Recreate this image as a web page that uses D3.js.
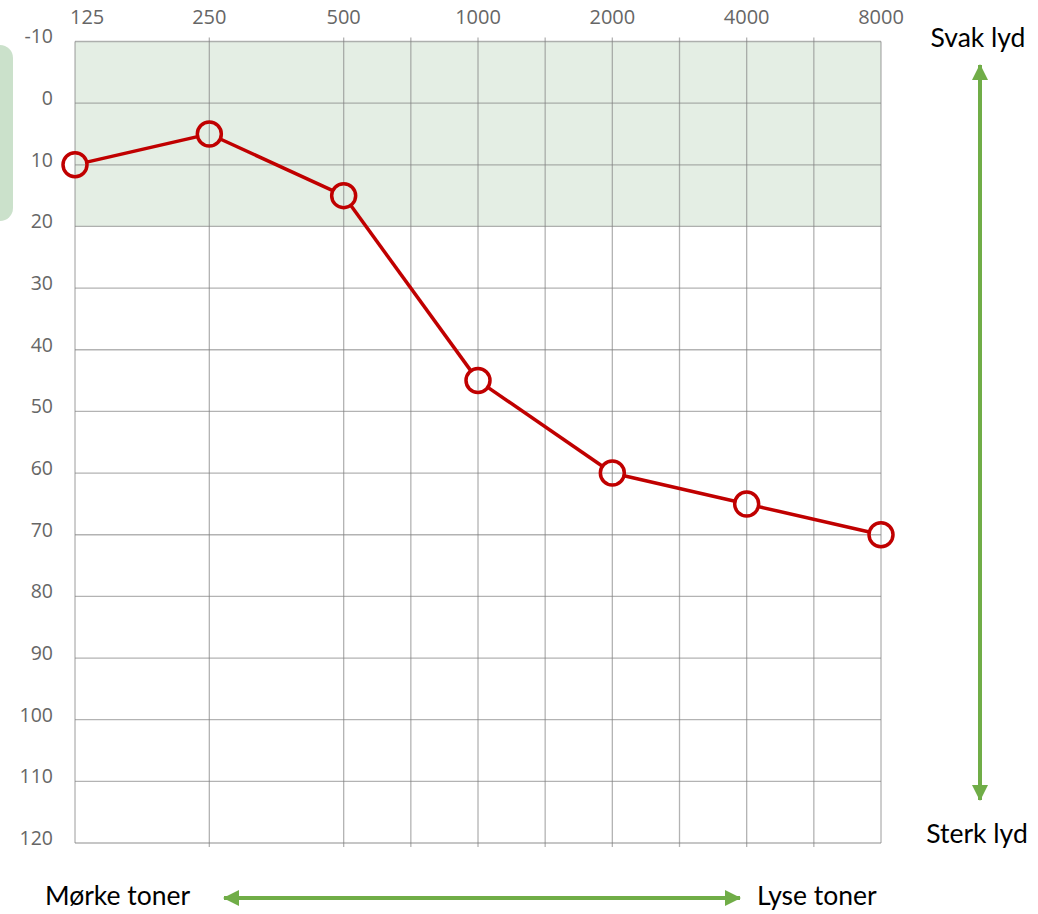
<!DOCTYPE html>
<html>
<head>
<meta charset="utf-8">
<script src="https://cdn.jsdelivr.net/npm/d3@7.9.0/dist/d3.min.js"></script>
<style>
  body { margin: 0; background: #fff; }
  svg { display: block; }
</style>
</head>
<body>
<svg id="audiogram" width="1038" height="914"></svg>
<script>
// audiogram data
const freqs = [125, 250, 500, 1000, 2000, 4000, 8000];
const thresholds = [10, 5, 15, 45, 60, 65, 70];
const halfOctaves = [750, 1500, 3000, 6000];
const dbTicks = [-10, 0, 10, 20, 30, 40, 50, 60, 70, 80, 90, 100, 110, 120];
const normalBand = [-10, 20];
const sideLabels = ['Svak lyd', 'Sterk lyd'];
const bottomLabels = ['Mørke toner', 'Lyse toner'];

const svg = d3.select('#audiogram');

const x = d3.scaleLog().base(2).domain([125, 8000]).range([75, 881]);
const y = d3.scaleLinear().domain([-10, 120]).range([41.5, 843]);
// half-octave lines sit midway between the neighbouring octaves
const xHalf = f => (x(f * 2 / 3) + x(f * 4 / 3)) / 2;

const green = '#70ad47';
const red = '#c00000';
const tickColor = '#666';

// arrow markers
const defs = svg.append('defs');
defs.append('marker')
  .attr('id', 'arrow')
  .attr('viewBox', '0 0 16 16')
  .attr('refX', 15).attr('refY', 8)
  .attr('markerWidth', 16).attr('markerHeight', 16)
  .attr('markerUnits', 'userSpaceOnUse')
  .attr('orient', 'auto-start-reverse')
  .append('path')
  .attr('d', 'M0,0 L16,8 L0,16 Z')
  .attr('fill', green);

// cropped box at the far left
svg.append('rect')
  .attr('x', -20).attr('y', 45)
  .attr('width', 33).attr('height', 176)
  .attr('rx', 13)
  .attr('fill', '#cbe1cb');

// normal-hearing band
svg.append('rect')
  .attr('x', x(125)).attr('y', y(normalBand[0]))
  .attr('width', x(8000) - x(125))
  .attr('height', y(normalBand[1]) - y(normalBand[0]))
  .attr('fill', '#e4eee4');

const grid = svg.append('g')
  .attr('stroke', '#808080')
  .attr('stroke-opacity', 0.6)
  .attr('stroke-width', 1.3);

// horizontal grid
grid.selectAll('line.h')
  .data(dbTicks)
  .join('line')
  .attr('class', 'h')
  .attr('x1', x(125)).attr('x2', x(8000))
  .attr('y1', d => y(d)).attr('y2', d => y(d));

// vertical grid: octaves
grid.selectAll('line.v')
  .data(freqs)
  .join('line')
  .attr('class', 'v')
  .attr('x1', d => x(d)).attr('x2', d => x(d))
  .attr('y1', d => (d === 125 || d === 8000) ? y(-10) : y(-10) - 4)
  .attr('y2', d => (d === 125 || d === 8000) ? y(120) : y(120) + 4);

// vertical grid: half octaves
grid.selectAll('line.hv')
  .data(halfOctaves)
  .join('line')
  .attr('class', 'hv')
  .attr('x1', xHalf).attr('x2', xHalf)
  .attr('y1', y(-10) - 4)
  .attr('y2', y(120) + 4);

// tick labels
svg.append('g')
  .attr('font-family', '"Open Sans", sans-serif')
  .attr('font-size', 20)
  .attr('fill', tickColor)
  .selectAll('text')
  .data(freqs)
  .join('text')
  .attr('x', (d, i) => i === 0 ? x(d) - 5 : x(d))
  .attr('y', 24)
  .attr('text-anchor', (d, i) => i === 0 ? 'start' : 'middle')
  .text(d => d);

svg.append('g')
  .attr('font-family', '"Open Sans", sans-serif')
  .attr('font-size', 19.5)
  .attr('fill', tickColor)
  .selectAll('text')
  .data(dbTicks)
  .join('text')
  .attr('x', 53)
  .attr('y', d => y(d) - 5)
  .attr('dy', '0.35em')
  .attr('text-anchor', 'end')
  .text(d => d);

// threshold line, segments stop at circle edges
const r = 12;
const pts = freqs.map((f, i) => [x(f), y(thresholds[i])]);
const segs = d3.pairs(pts).map(([a, b]) => {
  const dx = b[0] - a[0], dy = b[1] - a[1];
  const len = Math.hypot(dx, dy);
  const ux = dx / len, uy = dy / len;
  return [a[0] + ux * r, a[1] + uy * r, b[0] - ux * r, b[1] - uy * r];
});

svg.append('g')
  .selectAll('line')
  .data(segs)
  .join('line')
  .attr('x1', d => d[0]).attr('y1', d => d[1])
  .attr('x2', d => d[2]).attr('y2', d => d[3])
  .attr('stroke', red)
  .attr('stroke-width', 3.5);

svg.append('g')
  .selectAll('circle')
  .data(pts)
  .join('circle')
  .attr('cx', d => d[0]).attr('cy', d => d[1])
  .attr('r', r)
  .attr('fill', 'none')
  .attr('stroke', red)
  .attr('stroke-width', 3.5);

// side arrows and captions
svg.append('line')
  .attr('x1', 980).attr('y1', 800)
  .attr('x2', 980).attr('y2', 65)
  .attr('stroke', green).attr('stroke-width', 4)
  .attr('marker-start', 'url(#arrow)')
  .attr('marker-end', 'url(#arrow)');

svg.append('line')
  .attr('x1', 224).attr('y1', 898)
  .attr('x2', 740).attr('y2', 898)
  .attr('stroke', green).attr('stroke-width', 4)
  .attr('marker-start', 'url(#arrow)')
  .attr('marker-end', 'url(#arrow)');

const cap = svg.append('g')
  .attr('font-family', 'Lato, "Noto Sans", sans-serif')
  .attr('font-size', 26.5)
  .attr('fill', '#000');

cap.append('text').attr('x', 978).attr('y', 47).attr('text-anchor', 'middle').text(sideLabels[0]);
cap.append('text').attr('x', 977).attr('y', 843).attr('text-anchor', 'middle').text(sideLabels[1]);
cap.append('text').attr('x', 45).attr('y', 905).text(bottomLabels[0]);
cap.append('text').attr('x', 757).attr('y', 905).text(bottomLabels[1]);
</script>
</body>
</html>
